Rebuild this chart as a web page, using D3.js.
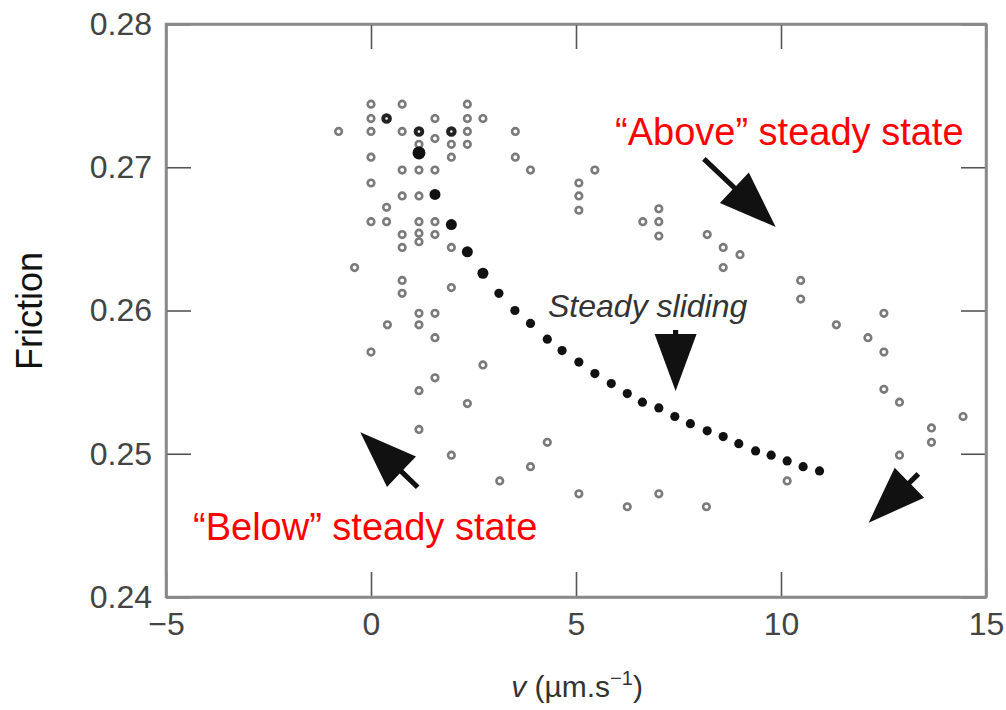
<!DOCTYPE html>
<html>
<head>
<meta charset="utf-8">
<script src="https://cdn.jsdelivr.net/npm/d3@7"></script>
<style>
body { margin: 0; background: #fff; }
svg { font-family: "Liberation Sans", Arial, sans-serif; }
</style>
</head>
<body>
<div class="chart"></div>
<script>
var totalWidth = 1006;
var totalHeight = 710;
// scattered data (open markers)
var openX = [0.0,0.76,2.35,0.0,0.38,1.56,2.35,2.73,-0.79,0.0,0.76,1.17,1.96,2.35,3.52,1.56,1.17,1.96,2.35,
	0.0,1.96,3.52,3.89,5.46,0.76,1.17,1.56,0.0,5.07,5.07,5.07,0.76,1.17,0.38,7.02,0.0,0.38,1.17,1.56,6.63,7.02,
	0.76,1.17,1.56,7.02,8.20,1.17,0.76,1.96,8.59,9.0,8.59,-0.40,0.76,10.48,1.96,0.76,10.48,1.17,1.56,12.51,
	11.35,0.40,1.17,1.56,12.12,0.0,12.51,2.73,1.56,12.51,1.17,2.35,12.89,14.44,1.17,13.67,13.67,4.30,3.89,
	1.96,12.89,10.15,3.14,5.07,7.02,6.25,8.18];
var openY = [0.2744,0.2744,0.2744,0.2734,0.2734,0.2734,0.2734,0.2734,0.2725,0.2725,0.2725,0.2725,0.2725,0.2725,0.2725,0.2720,0.2716,0.2716,0.2716,
	0.2707,0.2707,0.2707,0.2698,0.2698,0.2698,0.2698,0.2698,0.2689,0.2689,0.2680,0.2670,0.2680,0.2680,0.2672,0.2671,0.2662,0.2662,0.2662,0.2662,0.2662,0.2662,
	0.2653,0.2654,0.2653,0.2652,0.2653,0.2648,0.2644,0.2644,0.2644,0.2639,0.2630,0.2630,0.2621,0.2621,0.2616,0.2612,0.2608,0.2598,0.2598,0.2598,
	0.2590,0.2590,0.2590,0.2581,0.2581,0.2571,0.2571,0.2562,0.2553,0.2545,0.2544,0.2535,0.2536,0.2526,0.2517,0.2518,0.2508,0.2508,0.2491,
	0.2499,0.2499,0.2481,0.2481,0.2472,0.2472,0.2463,0.2463];
var darkIndex = [4,11,12];
// steady sliding path (filled markers)
var steadyX = [1.17,1.56,1.96,2.35,2.73,3.12,3.51,3.89,4.30,4.66,5.07,5.46,5.86,6.25,6.62,7.02,7.41,7.79,8.20,8.59,8.97,9.38,9.76,10.15,10.54,10.94];
var steadyY = [0.2710,0.2681,0.2660,0.2641,0.2626,0.2612,0.2600,0.2591,0.2580,0.2572,0.2564,0.2556,0.2549,0.2542,0.2536,0.2532,0.2526,0.2521,0.2516,0.2512,0.2507,0.2502,0.2499,0.2495,0.2491,0.2488];
var xTicks = [-5,0,5,10,15];
var yTicks = [0.24,0.25,0.26,0.27,0.28];
// arrows: [tailX, tailY, tipX, tipY]
var arrows = [[8.12,0.27058,9.87,0.26583],[7.43,0.25864,7.43,0.25438],[1.14,0.24766,-0.26,0.2515],[13.35,0.24859,12.14,0.24519]];

var svg = d3.select(".chart").append("svg")
	.attr("width",totalWidth)
	.attr("height",totalHeight);
var x = d3.scaleLinear().domain([-5,15]).range([166,986]);
var y = d3.scaleLinear().domain([0.24,0.28]).range([597,24]);

//axes
var tickLen = 25;
svg.append("g").attr("transform","translate(0,597)")
	.call(d3.axisBottom(x).tickValues(xTicks).tickSize(-tickLen).tickSizeOuter(0).tickPadding(15).tickFormat(function(d){ return d<0 ? "\u2212"+(-d) : d; }));
svg.append("g").attr("transform","translate(0,24)")
	.call(d3.axisTop(x).tickValues(xTicks).tickSize(-tickLen).tickSizeOuter(0).tickFormat(""));
svg.append("g").attr("transform","translate(166,0)")
	.call(d3.axisLeft(y).tickValues(yTicks).tickSize(-tickLen).tickSizeOuter(0).tickPadding(14).tickFormat(d3.format(".2f")));
svg.append("g").attr("transform","translate(986,0)")
	.call(d3.axisRight(y).tickValues(yTicks).tickSize(-tickLen).tickSizeOuter(0).tickFormat(""));
svg.selectAll(".domain").attr("stroke","#8a8a8a").attr("stroke-width",2.5);
svg.selectAll(".tick line").attr("stroke","#555").attr("stroke-width",1.6);
svg.selectAll(".tick text").attr("fill","#444").style("font-size","32px");
svg.append("rect")
	.attr("x",166).attr("y",24).attr("width",820).attr("height",573)
	.attr("fill","none").attr("stroke","#8a8a8a").attr("stroke-width",2.5);

//labels
svg.append("text")
	.attr("transform","translate(42,311) rotate(-90)")
	.attr("text-anchor","middle")
	.style("font-size","36px")
	.attr("fill","#111")
	.text("Friction");
var xl = svg.append("text")
	.attr("x",577).attr("y",697)
	.attr("text-anchor","middle")
	.style("font-size","30px")
	.attr("fill","#333");
xl.append("tspan").style("font-style","italic").text("v");
xl.append("tspan").text(" (\u00b5m.s");
xl.append("tspan").attr("dy",-12).style("font-size","20px").text("\u22121");
xl.append("tspan").attr("dy",12).text(")");

//open points
svg.append("g").selectAll("circle").data(openX)
	.enter().append("circle")
		.attr("cx",function(d){ return x(d); })
		.attr("cy",function(d,i){ return y(openY[i]); })
		.attr("r",3.3)
		.attr("fill","#fff")
		.attr("stroke",function(d,i){ return darkIndex.indexOf(i)>=0 ? "#222" : "#7a7a7a"; })
		.attr("stroke-width",function(d,i){ return darkIndex.indexOf(i)>=0 ? 4 : 2.6; });
//steady points
svg.append("g").selectAll("circle").data(steadyX)
	.enter().append("circle")
		.attr("cx",function(d){ return x(d); })
		.attr("cy",function(d,i){ return y(steadyY[i]); })
		.attr("r",function(d,i){ return i==0 ? 6.5 : (i<5 ? 5.5 : 4.6); })
		.attr("fill","#111");

//arrows
function arrowPath(a){
	var x0 = x(a[0]), y0 = y(a[1]), x1 = x(a[2]), y1 = y(a[3]);
	var dx = x1-x0, dy = y1-y0, len = Math.sqrt(dx*dx+dy*dy);
	var ux = dx/len, uy = dy/len, px = -uy, py = ux;
	var headL = Math.min(57,len), headW = 21, stemW = 2.6;
	var bx = x1-ux*headL, by = y1-uy*headL;
	var pts = [
		[x0+px*stemW, y0+py*stemW],
		[bx+px*stemW, by+py*stemW],
		[bx+px*headW, by+py*headW],
		[x1, y1],
		[bx-px*headW, by-py*headW],
		[bx-px*stemW, by-py*stemW],
		[x0-px*stemW, y0-py*stemW]
	];
	return "M"+pts.map(function(p){ return p[0].toFixed(1)+","+p[1].toFixed(1); }).join("L")+"Z";
}
svg.append("g").selectAll("path").data(arrows)
	.enter().append("path")
		.attr("d",arrowPath)
		.attr("fill","#111");

//annotations
svg.append("text")
	.attr("x",548).attr("y",317)
	.style("font-size","32px")
	.style("font-style","italic")
	.attr("fill","#333")
	.text("Steady sliding");
svg.append("text")
	.attr("x",615).attr("y",145)
	.style("font-size","38px")
	.attr("fill","#ff0000")
	.text("\u201cAbove\u201d steady state");
svg.append("text")
	.attr("x",193).attr("y",540)
	.style("font-size","38px")
	.attr("fill","#ff0000")
	.text("\u201cBelow\u201d steady state");
</script>
</body>
</html>
